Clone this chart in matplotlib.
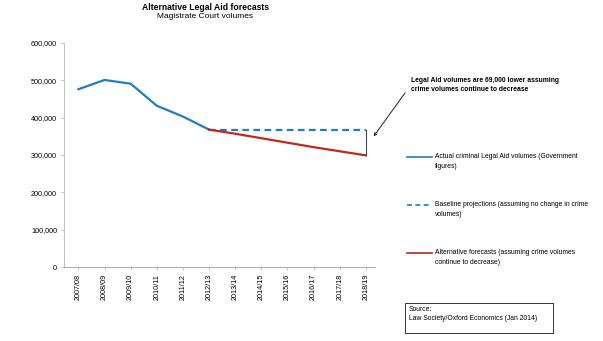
import numpy as np
import matplotlib.pyplot as plt
from matplotlib.lines import Line2D
from matplotlib.patches import Rectangle

plt.rcParams['font.family'] = ['Liberation Sans', 'DejaVu Sans']

years = ['2007/08', '2008/09', '2009/10', '2010/11', '2011/12', '2012/13',
         '2013/14', '2014/15', '2015/16', '2016/17', '2017/18', '2018/19']
actual = [476000, 501000, 491000, 432000, 403000, 368000]
baseline = [368000, 368000, 368000, 368000, 368000, 368000, 368000]
alternative = [368000, 357000, 345000, 333000, 321000, 310000, 299000]

blue = '#1e7fc0'
red = '#c0281e'

fig = plt.figure(figsize=(6.03, 3.41), dpi=100)
ax = fig.add_axes([64/603, 74/341, 311/603, 224/341])

x = np.arange(len(years))
ax.plot(x[:6], actual, color=blue, lw=1.6)
ax.plot(x[5:], baseline, color=blue, lw=1.6, ls=(0, (3, 2)))
ax.plot(x[5:], alternative, color=red, lw=1.6)
ax.plot([x[-1], x[-1]], [alternative[-1], baseline[-1]], color='#3a4a6a', lw=0.8)

ax.set_xlim(-0.55, 11.35)
ax.set_ylim(0, 600000)
ax.set_yticks(np.arange(0, 600001, 100000))
ax.set_yticklabels(['{:,}'.format(v) for v in range(0, 600001, 100000)], fontsize=5.2)
ax.set_xticks(x)
ax.set_xticklabels(years, rotation=90, fontsize=5.2)
ax.tick_params(length=2, width=0.5, color='#aaaaaa', pad=3)
for s in ['top', 'right']:
    ax.spines[s].set_visible(False)
ax.spines['left'].set_color('#b8c8b0')
ax.spines['bottom'].set_color('#aaaaaa')
ax.spines['left'].set_linewidth(0.7)
ax.spines['bottom'].set_linewidth(0.7)

fig.text(205/603, 1 - 7/341, 'Alternative Legal Aid forecasts', ha='center', va='center',
         fontsize=6.2, fontweight='bold')
fig.text(205/603, 1 - 17/341, 'Magistrate Court volumes', ha='center', va='center', fontsize=6.0)

# note with arrow pointing at the gap
ax.annotate('Legal Aid volumes are 69,000 lower assuming\ncrime volumes continue to decrease',
            xy=(11.3, 350000), xycoords='data',
            xytext=(411/603, 1 - 85/341), textcoords='figure fraction',
            fontsize=4.9, fontweight='bold', ha='left', va='center', linespacing=1.35,
            arrowprops=dict(arrowstyle='->', color='#222222', lw=0.7,
                            shrinkA=0, shrinkB=0, relpos=(-0.04, 0.0)))

# legend entries
entries = [
    (blue, '-', 'Actual criminal Legal Aid volumes (Government\nfigures)', 157),
    (blue, (0, (3, 2)), 'Baseline projections (assuming no change in crime\nvolumes)', 205),
    (red, '-', 'Alternative forecasts (assuming crime volumes\ncontinue to decrease)', 253),
]
for col, ls, label, py in entries:
    yf = 1 - py/341
    fig.add_artist(Line2D([407/603, 432/603], [yf, yf], color=col, lw=1.2, ls=ls))
    fig.text(435/603, yf + 4/341, label, fontsize=4.9, ha='left', va='top', linespacing=1.5)

fig.add_artist(Rectangle((405/603, 1 - 333/341), 148/603, 30/341, transform=fig.transFigure,
                         fill=False, edgecolor='#333333', lw=0.7))
fig.text(409/603, 1 - 306/341, 'Source:\nLaw Society/Oxford Economics (Jan 2014)', fontsize=4.9,
         ha='left', va='top', linespacing=1.5)

plt.savefig('out.png', dpi=100)
